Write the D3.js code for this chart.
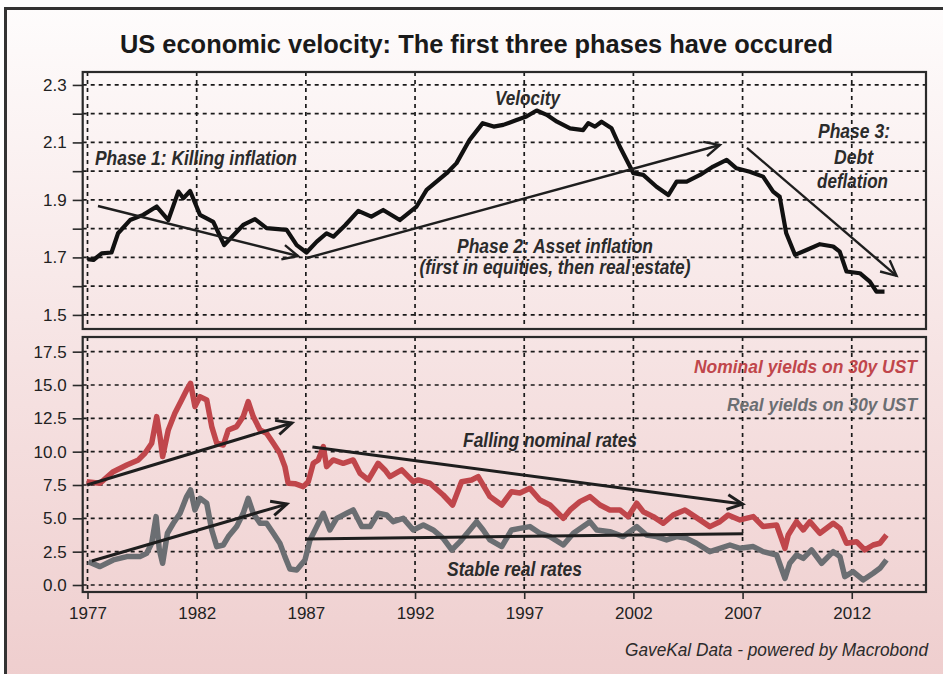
<!DOCTYPE html>
<html><head><meta charset="utf-8">
<script src="https://cdn.jsdelivr.net/npm/d3@7"></script>
<style>html,body{margin:0;padding:0;background:#fff;}svg{display:block;}</style>
</head><body>
<svg id="chart" width="943" height="674"></svg>
<script>
// ---------- DATA ----------
const velocityYears = [1977.0,1977.27,1977.65,1978.1,1978.4,1978.95,1979.55,1980.17,1980.7,1981.16,1981.39,1981.7,1982.15,1982.76,1983.26,1984.13,1984.67,1985.2,1986.12,1986.58,1987.03,1987.5,1987.95,1988.26,1988.8,1989.4,1990.0,1990.54,1991.3,1992.07,1992.53,1993.45,1993.9,1994.5,1995.1,1995.6,1996.04,1996.65,1997.1,1997.57,1998.03,1998.5,1999.1,1999.7,1999.93,2000.24,2000.54,2001.0,2001.38,2001.69,2002.0,2002.45,2003.06,2003.6,2003.98,2004.44,2005.05,2005.65,2006.27,2006.72,2007.33,2007.94,2008.4,2008.7,2009.0,2009.4,2009.93,2010.54,2011.15,2011.45,2011.76,2012.37,2012.83,2013.13,2013.5];
const velocityValues = [1.694,1.691,1.714,1.717,1.784,1.83,1.848,1.877,1.83,1.929,1.906,1.931,1.848,1.824,1.743,1.813,1.833,1.802,1.796,1.743,1.717,1.755,1.784,1.772,1.812,1.862,1.842,1.865,1.83,1.877,1.935,1.993,2.028,2.109,2.167,2.155,2.161,2.178,2.19,2.211,2.196,2.172,2.149,2.143,2.167,2.155,2.172,2.149,2.085,2.039,1.993,1.987,1.946,1.917,1.964,1.964,1.987,2.016,2.039,2.01,1.998,1.981,1.929,1.911,1.784,1.709,1.726,1.746,1.738,1.72,1.651,1.645,1.616,1.581,1.581];

const nominalYears = [1976.96,1977.57,1978.18,1978.8,1979.33,1979.63,1979.94,1980.17,1980.32,1980.44,1980.7,1981.0,1981.31,1981.54,1981.72,1981.92,1982.15,1982.46,1982.69,1982.92,1983.22,1983.45,1983.83,1984.13,1984.36,1984.59,1984.9,1985.2,1985.51,1985.81,1986.04,1986.19,1986.5,1986.88,1987.11,1987.34,1987.57,1987.8,1987.95,1988.25,1988.71,1989.17,1989.48,1989.86,1990.31,1990.62,1990.85,1991.39,1991.92,1992.15,1992.68,1993.29,1993.72,1994.13,1994.59,1994.89,1995.43,1995.97,1996.42,1996.8,1997.26,1997.72,1998.18,1998.79,1999.1,1999.55,2000.01,2000.47,2000.92,2001.38,2001.76,2002.15,2002.45,2002.91,2003.36,2003.82,2004.36,2004.82,2005.5,2005.96,2006.34,2006.88,2007.49,2007.94,2008.56,2008.94,2009.09,2009.47,2009.78,2010.08,2010.54,2011.15,2011.46,2011.76,2012.22,2012.6,2012.98,2013.29,2013.59];
const nominalValues = [7.75,7.63,8.5,9.0,9.38,9.88,10.63,12.63,11.13,9.63,11.63,12.88,13.88,14.63,15.13,13.38,14.13,13.88,11.88,10.63,10.5,11.63,11.88,12.63,13.75,12.63,11.63,11.38,10.63,9.88,8.88,7.63,7.6,7.38,7.75,9.13,9.38,10.38,8.88,9.38,9.13,9.38,8.38,7.88,9.13,8.63,8.13,8.63,7.75,7.88,7.63,6.75,6.0,7.75,7.88,8.13,6.63,6.0,7.0,6.9,7.25,6.38,6.0,5.0,5.63,6.25,6.63,6.0,5.63,5.63,5.13,6.13,5.5,5.13,4.63,5.25,5.63,5.13,4.38,4.75,5.25,4.88,5.13,4.38,4.5,2.75,3.75,4.75,4.13,4.75,3.88,4.63,4.25,3.13,3.25,2.63,3.0,3.13,3.75];

const realYears = [1977.04,1977.57,1978.18,1978.8,1979.4,1979.71,1979.94,1980.14,1980.29,1980.44,1980.66,1980.93,1981.24,1981.54,1981.72,1981.92,1982.15,1982.46,1982.69,1982.92,1983.22,1983.45,1983.83,1984.13,1984.36,1984.59,1984.9,1985.2,1985.51,1985.81,1986.04,1986.27,1986.58,1986.96,1987.19,1987.5,1987.8,1988.1,1988.41,1988.87,1989.17,1989.56,1989.94,1990.31,1990.7,1991.0,1991.46,1991.92,1992.38,1992.83,1993.29,1993.68,1994.06,1994.51,1994.82,1995.12,1995.43,1995.97,1996.42,1996.8,1997.26,1997.72,1998.18,1998.79,1999.25,2000.01,2000.32,2000.92,2001.53,2002.15,2002.6,2003.06,2003.52,2003.98,2004.44,2004.89,2005.5,2005.96,2006.42,2006.88,2007.49,2007.94,2008.56,2008.94,2009.16,2009.47,2009.78,2010.16,2010.62,2011.15,2011.46,2011.68,2012.06,2012.52,2012.98,2013.29,2013.59];
const realValues = [1.75,1.38,1.88,2.13,2.13,2.38,3.13,5.13,2.63,1.63,3.88,4.63,5.38,6.63,7.13,5.63,6.5,6.13,4.13,2.88,3.0,3.63,4.38,5.38,6.5,5.38,4.63,4.63,3.88,3.13,2.13,1.2,1.13,1.88,3.38,4.38,5.38,4.13,5.0,5.38,5.63,4.38,4.38,5.38,5.25,4.75,5.0,4.13,4.5,4.13,3.5,2.63,3.25,4.13,4.75,4.13,3.38,2.88,4.13,4.25,4.38,3.88,3.63,3.0,3.88,4.75,4.13,4.0,3.63,4.38,3.75,3.63,3.38,3.63,3.5,3.13,2.5,2.75,3.0,2.75,2.88,2.5,2.25,0.5,1.63,2.25,2.0,2.63,1.63,2.5,2.13,0.63,1.0,0.38,0.88,1.25,1.88];

const yearTicks = [1977,1982,1987,1992,1997,2002,2007,2012];
const topTickValues = [1.5,1.6,1.7,1.8,1.9,2.0,2.1,2.2,2.3];
const topTickLabels = ["1.5","","1.7","","1.9","","2.1","","2.3"];
const bottomTickValues = [0,2.5,5,7.5,10,12.5,15,17.5];
const bottomTickLabels = ["0.0","2.5","5.0","7.5","10.0","12.5","15.0","17.5"];

// arrows: [x0, y0, x1, y1, hasHead] in data units
const topArrows = [
  [1977.48,1.879,1986.64,1.705,true],
  [1987.05,1.698,2005.96,2.091,true],
  [2007.2,2.081,2014.05,1.636,true]
];
const bottomArrows = [
  [1976.98,7.5,1986.36,12.15,true],
  [1977.2,1.8,1986.13,6.07,true],
  [1987.3,10.35,2007.0,6.07,true],
  [1986.96,3.45,2007.03,3.85,false]
];

// ---------- LAYOUT ----------
function hasFont(f){
  const c=document.createElement('canvas').getContext('2d');
  c.font='20px monospace'; const a=c.measureText('1977 abcdefgWM').width;
  c.font='20px "'+f+'", monospace'; const b=c.measureText('1977 abcdefgWM').width;
  return a!==b;
}
const narrow = hasFont('Liberation Sans Narrow');
const FONT = narrow ? '"Liberation Sans Narrow", "Arial Narrow", sans-serif' : '"Liberation Sans", Arial, sans-serif';
const tickSize = narrow ? 20 : 17;

const svg = d3.select('#chart');
const L = 82.7, R = 926;
const topT = 72, topB = 329, botT = 337, botB = 592;

const x = d3.scaleLinear().domain([1976.78, 2015.4]).range([L, R]);
const yTop = d3.scaleLinear().domain([1.451, 2.345]).range([topB, topT]);
const yBot = d3.scaleLinear().domain([-0.525, 18.6]).range([botB, botT]);

// background
const defs = svg.append('defs');
const g = defs.append('linearGradient').attr('id','bg').attr('x1',0).attr('y1',0).attr('x2',0).attr('y2',1);
g.append('stop').attr('offset','0%').attr('stop-color','#fefcfc');
g.append('stop').attr('offset','50%').attr('stop-color','#f6e3e3');
g.append('stop').attr('offset','100%').attr('stop-color','#eecccc');
svg.append('rect').attr('width',943).attr('height',674).attr('fill','#fff');
svg.append('rect').attr('x',5.5).attr('y',8.5).attr('width',960).attr('height',700)
  .attr('fill','url(#bg)').attr('stroke','#333').attr('stroke-width',3);

// gridlines
function grid(yScale, vals, t, b){
  const gg = svg.append('g').attr('stroke','#1a1a1a').attr('stroke-width',1.7).attr('stroke-dasharray','4,4');
  gg.selectAll('.h').data(vals).enter().append('line')
    .attr('x1',L).attr('x2',R).attr('y1',d=>yScale(d)).attr('y2',d=>yScale(d));
  gg.selectAll('.v').data(yearTicks).enter().append('line')
    .attr('x1',d=>x(d)).attr('x2',d=>x(d)).attr('y1',t).attr('y2',b);
}
grid(yTop, topTickValues, topT, topB);
grid(yBot, bottomTickValues, botT, botB);

// lines
const vData = velocityYears.map((d,i)=>[d,velocityValues[i]]);
const nData = nominalYears.map((d,i)=>[d,nominalValues[i]]);
const rData = realYears.map((d,i)=>[d,realValues[i]]);
svg.append('path').datum(vData).attr('fill','none').attr('stroke','#111').attr('stroke-width',4.2)
  .attr('stroke-linejoin','round')
  .attr('d', d3.line().x(d=>x(d[0])).y(d=>yTop(d[1])));
svg.append('path').datum(nData).attr('fill','none').attr('stroke','#c0464b').attr('stroke-width',5.5)
  .attr('stroke-linejoin','round')
  .attr('d', d3.line().x(d=>x(d[0])).y(d=>yBot(d[1])));
svg.append('path').datum(rData).attr('fill','none').attr('stroke','#6b6e72').attr('stroke-width',5.5)
  .attr('stroke-linejoin','round')
  .attr('d', d3.line().x(d=>x(d[0])).y(d=>yBot(d[1])));

// arrows
function arrows(list, yScale, w){
  list.forEach(a=>{
    const x0=x(a[0]), y0=yScale(a[1]), x1=x(a[2]), y1=yScale(a[3]);
    svg.append('line').attr('x1',x0).attr('y1',y0).attr('x2',x1).attr('y2',y1)
      .attr('stroke','#1e1e1e').attr('stroke-width',w);
    if(a[4]){
      const ang=Math.atan2(y1-y0,x1-x0), len=17, sp=0.45;
      const p1=[x1-len*Math.cos(ang-sp), y1-len*Math.sin(ang-sp)];
      const p2=[x1-len*Math.cos(ang+sp), y1-len*Math.sin(ang+sp)];
      svg.append('path').attr('d',`M${p1[0]},${p1[1]}L${x1},${y1}L${p2[0]},${p2[1]}`)
        .attr('fill','none').attr('stroke','#1e1e1e').attr('stroke-width',w).attr('stroke-linejoin','miter');
    }
  });
}
arrows(topArrows, yTop, 2.4);
arrows(bottomArrows, yBot, 3);

// panel frames
[[topT,topB],[botT,botB]].forEach(p=>{
  svg.append('rect').attr('x',L).attr('y',p[0]).attr('width',R-L).attr('height',p[1]-p[0])
    .attr('fill','none').attr('stroke','#2a2a2a').attr('stroke-width',2.2);
});

// axes
function styleAxis(sel){
  sel.select('.domain').remove();
  sel.selectAll('.tick line').attr('stroke','#2a2a2a').attr('stroke-width',1.6);
  sel.selectAll('.tick text').attr('font-family',FONT).attr('font-size',tickSize).attr('fill','#222');
}
svg.append('g').attr('transform',`translate(${L},0)`)
  .call(d3.axisLeft(yTop).tickValues(topTickValues).tickSize(10).tickPadding(6)
    .tickFormat((d,i)=>topTickLabels[i])).call(styleAxis);
svg.append('g').attr('transform',`translate(${L},0)`)
  .call(d3.axisLeft(yBot).tickValues(bottomTickValues).tickSize(10).tickPadding(6)
    .tickFormat((d,i)=>bottomTickLabels[i])).call(styleAxis);
svg.append('g').attr('transform',`translate(0,${botB})`)
  .call(d3.axisBottom(x).tickValues(yearTicks).tickSize(7).tickPadding(8).tickFormat(d3.format('d')))
  .call(styleAxis);

// text helper: target width via textLength, shrinking the font when the natural
// width would run past the right edge of the picture
function label(t, xx, yy, anchor, len, color, opts){
  opts = opts||{};
  let size = opts.size||20;
  const el = svg.append('text').attr('x',xx).attr('y',yy).attr('text-anchor',anchor)
    .attr('font-family',FONT).attr('font-weight',opts.weight||'bold').attr('font-style',opts.style||'italic')
    .attr('font-size',size).attr('fill',color).text(t);
  const nat = el.node().getComputedTextLength();
  const start = anchor==='end' ? xx-len : anchor==='middle' ? xx-len/2 : xx;
  const room = 936 - start;
  if(nat > room){ size = size*room/nat; el.attr('font-size',size); }
  el.attr('textLength',len).attr('lengthAdjust','spacingAndGlyphs');
}
label('US economic velocity: The first three phases have occured', 476.5, 53, 'middle', 713, '#1a1a1a', {size:26, style:'normal'});
label('Phase 1: Killing inflation', 95, 165, 'start', 202, '#2b2b2b');
label('Velocity', 527.5, 105, 'middle', 65, '#2b2b2b');
label('Phase 2: Asset inflation', 555, 253, 'middle', 196, '#2b2b2b');
label('(first in equities, then real estate)', 555, 274, 'middle', 271, '#2b2b2b');
label('Phase 3:', 854, 138, 'middle', 72, '#2b2b2b');
label('Debt', 853.5, 164, 'middle', 39, '#2b2b2b');
label('deflation', 852.5, 188, 'middle', 71, '#2b2b2b');
label('Falling nominal rates', 550, 447, 'middle', 174, '#2b2b2b');
label('Stable real rates', 514.5, 576, 'middle', 135, '#2b2b2b');
label('Nominal yields on 30y UST', 917, 373, 'end', 223, '#c0464b');
label('Real yields on 30y UST', 917, 411, 'end', 190, '#6b6e72');
label('GaveKal Data - powered by Macrobond', 928, 656, 'end', 303, '#2b2b2b', {weight:'normal', size:19});
</script>
</body></html>
